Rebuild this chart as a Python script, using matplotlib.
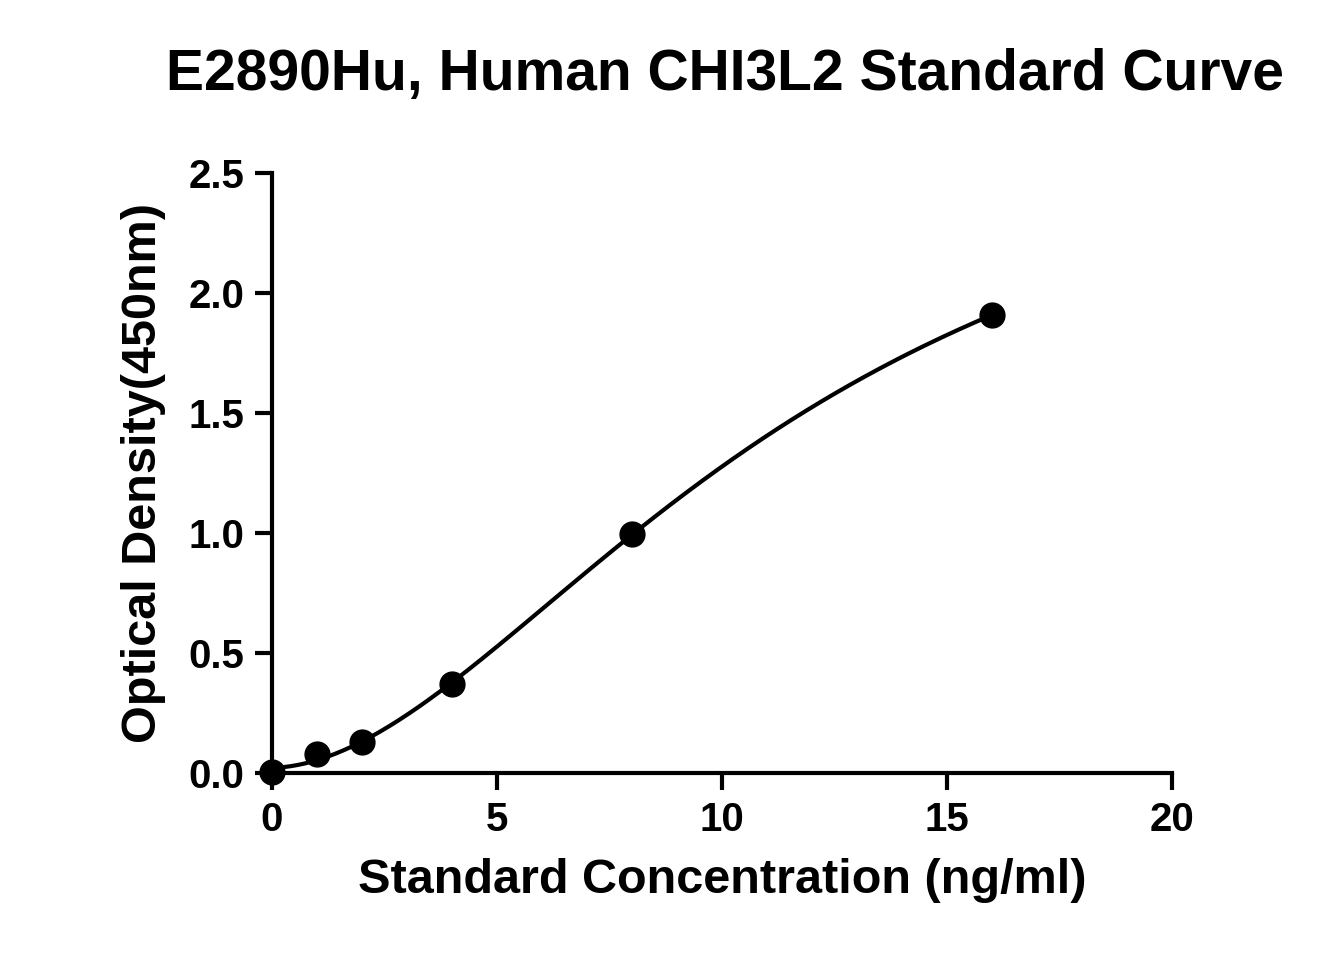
import numpy as np
import matplotlib
matplotlib.use("Agg")
import matplotlib.pyplot as plt

conc = np.array([0, 1, 2, 4, 8, 16], dtype=float)
od = np.array([0.005, 0.079, 0.129, 0.371, 0.996, 1.908])

def f(x, p):
    a, d, c, b = p
    return d + (a - d) / (1 + (np.abs(x) / c) ** b)

p = np.array([0.0, 3.0, 10.0, 2.0])
lam = 1e-2
for _ in range(500):
    r = od - f(conc, p)
    J = np.zeros((len(conc), 4))
    for i in range(4):
        dp = np.zeros(4); dp[i] = 1e-6 * max(1, abs(p[i]))
        J[:, i] = (f(conc, p + dp) - f(conc, p)) / dp[i]
    A = J.T @ J
    step = np.linalg.solve(A + lam * np.diag(np.diag(A)), J.T @ r)
    pn = p + step
    if pn[2] > 0 and np.sum((od - f(conc, pn)) ** 2) < np.sum(r ** 2):
        p = pn; lam *= 0.5
    else:
        lam *= 4

plt.rcParams['font.family'] = ['Liberation Sans', 'DejaVu Sans']
plt.rcParams['font.weight'] = 'bold'
fig = plt.figure(figsize=(13.35, 9.75), dpi=100)
ax = fig.add_axes([0.2037, 0.207, 0.6742, 0.6156])
xs = np.linspace(0, 16, 300)
ax.plot(xs, f(xs, p), color='black', lw=3, zorder=2)
ax.scatter(conc, od, s=320, color='black', zorder=3, clip_on=False)
ax.set_xlim(0, 20); ax.set_ylim(0, 2.5)
ax.set_xticks([0, 5, 10, 15, 20]); ax.set_yticks([0, 0.5, 1, 1.5, 2, 2.5])
ax.set_yticklabels(['0.0', '0.5', '1.0', '1.5', '2.0', '2.5'])
for s in ['top', 'right']:
    ax.spines[s].set_visible(False)
for s in ['left', 'bottom']:
    ax.spines[s].set_linewidth(3)
ax.tick_params(width=3, length=12, labelsize=29, pad=8)
for t in ax.get_xticklabels() + ax.get_yticklabels():
    t.set_fontweight('bold')
ax.set_xlabel('Standard Concentration (ng/ml)', fontsize=35, fontweight='bold', labelpad=14)
ax.set_ylabel('Optical Density(450nm)', fontsize=35, fontweight='bold', labelpad=16)
fig.text(0.543, 0.923, 'E2890Hu, Human CHI3L2 Standard Curve', ha='center', va='center',
         fontsize=41, fontweight='bold')
fig.savefig('out.png', dpi=100)
